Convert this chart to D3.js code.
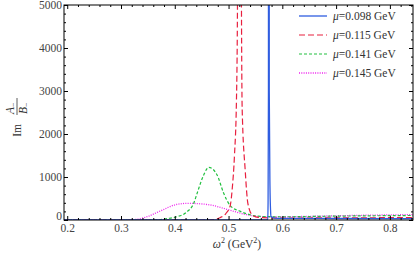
<!DOCTYPE html>
<html><head><meta charset="utf-8">
<script src="https://cdn.jsdelivr.net/npm/d3@7"></script>
<style>
html,body{margin:0;padding:0;background:#fff;}
svg text{font-family:"Liberation Serif","DejaVu Serif",serif;}
</style></head>
<body><svg id="c" width="415" height="254"></svg>
<script>
// ---- data ----
const seriesNames = ["0.098", "0.115", "0.141", "0.145"];
const blueX  = [0.194, 0.50, 0.56, 0.570, 0.5728, 0.5735, 0.5742, 0.5749, 0.5757, 0.5770, 0.5782, 0.579, 0.585, 0.60, 0.70, 0.843];
const blueY  = [0, 0, 0, 2, 20, 400, 3000, 60000, 3000, 800, 200, 80, 45, 40, 35, 30];
const redX   = [0.194, 0.45, 0.47, 0.485, 0.495, 0.503, 0.507, 0.511, 0.5147, 0.5166, 0.5203, 0.524, 0.5253, 0.531, 0.536, 0.5445, 0.555, 0.60, 0.70, 0.843];
const redY   = [0, 0, 8, 60, 150, 330, 750, 1500, 2790, 5000, 30000, 5000, 2600, 1150, 380, 110, 60, 45, 50, 55];
const greenX = [0.194, 0.34, 0.37, 0.39, 0.404, 0.423, 0.4352, 0.4415, 0.4538, 0.4631, 0.4787, 0.491, 0.5035, 0.522, 0.535, 0.547, 0.5656, 0.60, 0.70, 0.843];
const greenY = [0, 0, 10, 40, 77, 193, 388, 620, 1047, 1225, 1047, 620, 330, 200, 140, 100, 80, 75, 90, 105];
const pinkX  = [0.194, 0.28, 0.31, 0.3296, 0.3484, 0.3732, 0.404, 0.4256, 0.4663, 0.497, 0.528, 0.559, 0.58, 0.65, 0.75, 0.843];
const pinkY  = [0, 0, 3, 16, 77, 209, 364, 388, 349, 248, 140, 77, 70, 85, 110, 125];
const xTicks = [0.2, 0.3, 0.4, 0.5, 0.6, 0.7, 0.8];
const yTicks = [0, 1000, 2000, 3000, 4000, 5000];

const W = 415, H = 254;
const L = 64, R = 413, T = 5, B = 220;
const svg = d3.select("#c");
const x = d3.scaleLinear().domain([0.194, 0.843]).range([L, R]);
const y = d3.scaleLinear().domain([0, 5000]).range([B, T]);

svg.append("defs").append("clipPath").attr("id","clip")
  .append("rect").attr("x",L).attr("y",T).attr("width",R-L).attr("height",B-T);

const series = [
  {name:seriesNames[0], xs:blueX, ys:blueY, color:"#2f5de0", dash:null, w:1.3},
  {name:seriesNames[1], xs:redX, ys:redY, color:"#e8203f", dash:"6,3", w:1.2},
  {name:seriesNames[2], xs:greenX, ys:greenY, color:"#22c040", dash:"3,2", w:1.2},
  {name:seriesNames[3], xs:pinkX, ys:pinkY, color:"#ee22ee", dash:"1,1.3", w:1.3}
];

const line = d3.line().x(d=>x(d[0])).y(d=>y(d[1])).curve(d3.curveMonotoneX);
const g = svg.append("g").attr("clip-path","url(#clip)");
// draw in reverse so blue is on top
series.slice().reverse().forEach(s=>{
  const pts = s.xs.map((v,i)=>[v, s.ys[i]]);
  g.append("path").attr("d", line(pts)).attr("fill","none")
    .attr("stroke", s.color).attr("stroke-width", s.w)
    .attr("stroke-dasharray", s.dash);
});

// frame
svg.append("rect").attr("x",L).attr("y",T).attr("width",R-L).attr("height",B-T)
  .attr("fill","none").attr("stroke","#000").attr("stroke-width",1);

// axes with inward ticks
const xMinor = d3.range(0.2, 0.843, 0.02).filter(v=>Math.abs(v*10-Math.round(v*10))>1e-6);
const yMinor = d3.range(0, 5001, 200).filter(v=>v%1000!==0);
function addAxis(axisGen, transform, ticks, size){
  const a = svg.append("g").attr("transform", transform)
    .call(axisGen.tickValues(ticks).tickSize(size).tickFormat(""));
  a.select(".domain").remove();
  a.selectAll("line").attr("stroke","#000").attr("stroke-width",1);
  return a;
}
addAxis(d3.axisBottom(x), `translate(0,${B})`, xTicks, -4);
addAxis(d3.axisBottom(x), `translate(0,${B})`, xMinor, -2);
addAxis(d3.axisTop(x), `translate(0,${T})`, xTicks, -4);
addAxis(d3.axisTop(x), `translate(0,${T})`, xMinor, -2);
addAxis(d3.axisLeft(y), `translate(${L},0)`, yTicks, -4);
addAxis(d3.axisLeft(y), `translate(${L},0)`, yMinor, -2);
addAxis(d3.axisRight(y), `translate(${R},0)`, yTicks, -4);
addAxis(d3.axisRight(y), `translate(${R},0)`, yMinor, -2);

// tick labels
const xl = svg.append("g").attr("transform",`translate(0,${B})`)
  .call(d3.axisBottom(x).tickValues(xTicks).tickSize(0).tickPadding(4).tickFormat(d3.format(".1f")));
xl.select(".domain").remove();
xl.selectAll("text").attr("font-family","Liberation Serif, serif").attr("font-size",11.5).attr("fill","#444");
const yl = svg.append("g").attr("transform",`translate(${L},0)`)
  .call(d3.axisLeft(y).tickValues(yTicks).tickSize(0).tickPadding(2).tickFormat(d3.format("d")));
yl.select(".domain").remove();
yl.selectAll("text").attr("font-family","Liberation Serif, serif").attr("font-size",11.5).attr("fill","#444");
yl.selectAll(".tick").filter(d=>d===0).select("text").attr("dy","-0.05em");

// x axis label
const xt = svg.append("text").attr("x",237).attr("y",248).attr("text-anchor","middle")
  .attr("font-size",11.5).attr("fill","#333");
xt.append("tspan").attr("font-style","italic").text("ω");
xt.append("tspan").attr("font-size",8).attr("dy",-5).text("2");
xt.append("tspan").attr("dy",5).text(" (GeV");
xt.append("tspan").attr("font-size",8).attr("dy",-5).text("2");
xt.append("tspan").attr("dy",5).text(")");

// y axis label: Im A_-/B_-
const yg = svg.append("g").attr("transform","translate(17,112) rotate(-90)").attr("fill","#333");
yg.append("text").attr("x",-12).attr("y",4).attr("text-anchor","end").attr("font-size",11.5).text("Im");
const num = yg.append("text").attr("x",-2).attr("y",-3).attr("font-size",11.5);
num.append("tspan").attr("font-style","italic").text("A");
num.append("tspan").attr("font-size",8).attr("dy",2).text("−");
const den = yg.append("text").attr("x",-2).attr("y",10).attr("font-size",11.5);
den.append("tspan").attr("font-style","italic").text("B");
den.append("tspan").attr("font-size",8).attr("dy",2).text("−");
yg.append("line").attr("x1",-3).attr("x2",14).attr("y1",0).attr("y2",0).attr("stroke","#333").attr("stroke-width",0.8);

// legend
const lg = svg.append("g");
series.forEach((s,i)=>{
  const yy = 16 + i*19;
  lg.append("line").attr("x1",299).attr("x2",327).attr("y1",yy).attr("y2",yy)
    .attr("stroke",s.color).attr("stroke-width",s.w).attr("stroke-dasharray",s.dash);
  const t = lg.append("text").attr("x",333).attr("y",yy+4).attr("font-size",11.5).attr("fill","#333");
  t.append("tspan").attr("font-style","italic").text("μ");
  t.append("tspan").text("=" + s.name + " GeV");
});
</script></body></html>
